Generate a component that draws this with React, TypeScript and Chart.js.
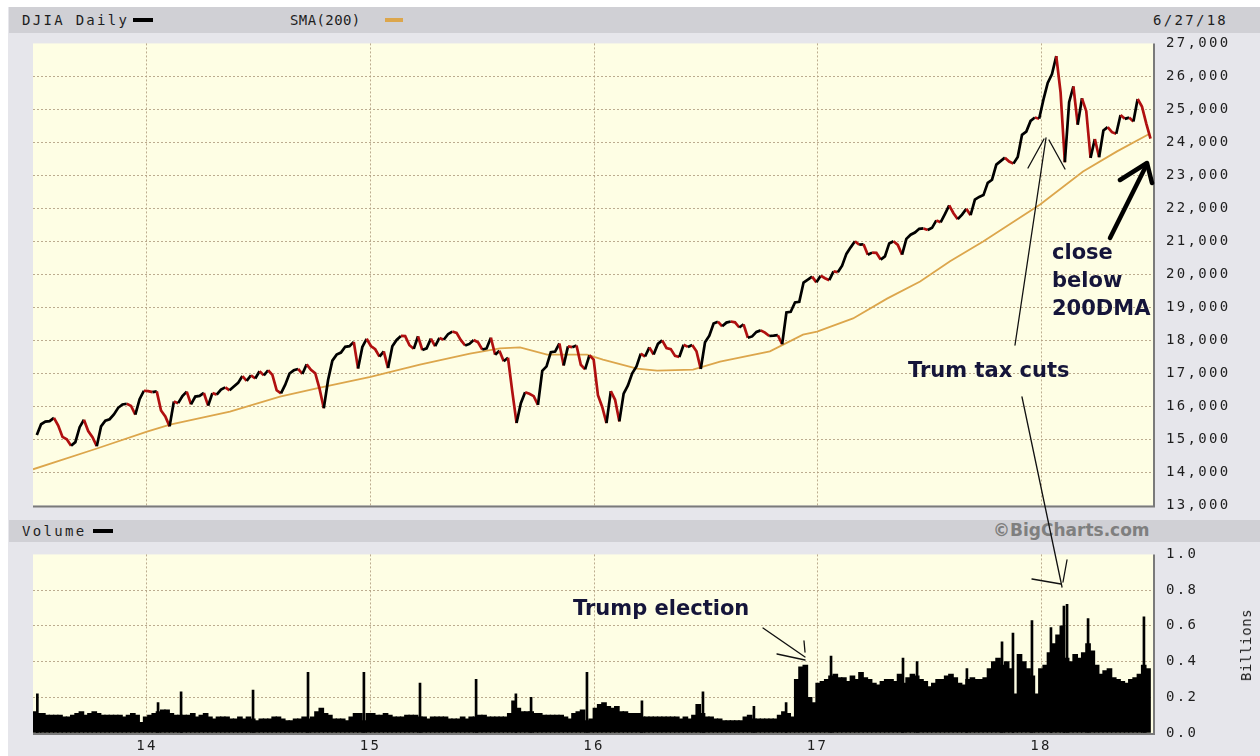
import React, { useEffect, useRef } from 'react';
import { Chart, registerables } from 'chart.js';

Chart.register(...registerables);

// ---------------- data ----------------
// weekly points, first week ends Fri 5 Jul 2013 (as fraction of a year)
const START_YEAR = 2013.507;
const WEEK_IN_YEARS = 7 / 365.25;

const DJIA_WEEKLY_2013 = [15135, 15464, 15543, 15559, 15658, 15425, 15081, 15010, 14810, 14922, 15376, 15600, 15258, 15073, 14800, 15400, 15570, 15615, 15762, 15962, 16065, 16086, 16020, 15755, 16221, 16479];
const DJIA_WEEKLY_2014 = [16469, 16437, 16459, 15880, 15699, 15400, 16154, 16103, 16321, 16452, 16065, 16302, 16323, 16412, 16027, 16408, 16361, 16512, 16583, 16491, 16606, 16717, 16924, 16776, 16947, 16851, 17068, 16944, 17100, 16961, 16493, 16400, 16663, 17001, 17098, 17138, 16988, 17280, 17113, 17009, 16544, 15950, 16805, 17391, 17573, 17635, 17810, 17828, 17959, 17150, 17805, 18053];
const DJIA_WEEKLY_2015 = [17833, 17737, 17512, 17673, 17165, 17825, 18019, 18140, 18133, 17857, 17749, 18128, 17713, 17763, 18058, 17827, 18080, 18024, 18191, 18272, 18232, 18011, 17849, 17898, 18015, 17947, 17730, 17760, 18086, 17568, 17690, 17373, 17477, 16460, 15500, 16102, 16433, 16385, 16315, 16050, 17084, 17216, 17647, 17664, 17910, 17245, 17824, 17798, 17848, 17265, 17128, 17552];
const DJIA_WEEKLY_2016 = [17425, 16347, 15988, 15500, 16466, 16205, 15550, 16392, 16640, 17007, 17213, 17602, 17516, 17793, 17577, 17898, 18004, 17774, 17740, 17535, 17501, 17873, 17807, 17865, 17675, 17140, 17949, 18147, 18517, 18571, 18432, 18543, 18576, 18552, 18395, 18492, 18085, 18124, 18262, 18308, 18240, 18138, 18146, 18161, 17888, 18848, 18868, 19152, 19171, 19757, 19843, 19934, 19763];
const DJIA_WEEKLY_2017 = [19964, 19886, 19827, 20094, 20071, 20269, 20624, 20822, 21006, 20903, 20915, 20597, 20663, 20656, 20453, 20548, 20941, 21007, 20897, 20600, 21080, 21206, 21272, 21384, 21395, 21350, 21414, 21638, 21580, 21830, 22093, 21858, 21675, 21814, 21988, 21798, 22268, 22350, 22405, 22774, 22871, 23329, 23434, 23539, 23422, 23358, 23558, 24231, 24329, 24652, 24754, 24719];
const DJIA_WEEKLY_2018 = [25296, 25803, 26072, 26617, 25521, 23400, 25219, 25700, 24538, 25336, 24947, 23534, 24103, 23550, 24360, 24463, 24311, 24263, 24831, 24715, 24753, 24635, 25317, 25090, 24580, 24117];

const SMA_YEARS = [2013.49, 2013.776, 2014.0, 2014.103, 2014.371, 2014.595, 2014.774, 2015.0, 2015.221, 2015.445, 2015.579, 2015.669, 2015.79, 2015.969, 2016.04, 2016.192, 2016.282, 2016.443, 2016.564, 2016.787, 2016.935, 2016.998, 2017.159, 2017.311, 2017.459, 2017.593, 2017.741, 2017.996, 2018.188, 2018.34, 2018.488];
const SMA_VALUES = [14100, 14730, 15240, 15450, 15850, 16300, 16570, 16900, 17270, 17600, 17760, 17790, 17570, 17570, 17420, 17150, 17090, 17120, 17360, 17670, 18180, 18270, 18670, 19270, 19790, 20400, 21000, 22120, 23120, 23730, 24270];

// weekly volume (billions)
const VOL_WEEKLY_2013 = [0.12, 0.11, 0.11, 0.10, 0.10, 0.10, 0.10, 0.09, 0.09, 0.10, 0.11, 0.12, 0.10, 0.11, 0.12, 0.11, 0.10, 0.10, 0.10, 0.10, 0.10, 0.09, 0.10, 0.11, 0.10, 0.06];
const VOL_WEEKLY_2014 = [0.09, 0.10, 0.11, 0.12, 0.13, 0.13, 0.11, 0.10, 0.10, 0.10, 0.10, 0.11, 0.09, 0.10, 0.11, 0.09, 0.08, 0.09, 0.09, 0.09, 0.08, 0.08, 0.09, 0.08, 0.09, 0.08, 0.07, 0.08, 0.08, 0.08, 0.09, 0.09, 0.08, 0.07, 0.07, 0.08, 0.08, 0.09, 0.08, 0.09, 0.12, 0.14, 0.11, 0.10, 0.08, 0.08, 0.08, 0.07, 0.09, 0.11, 0.11, 0.07];
const VOL_WEEKLY_2015 = [0.11, 0.11, 0.10, 0.10, 0.11, 0.10, 0.09, 0.09, 0.09, 0.10, 0.10, 0.10, 0.09, 0.09, 0.08, 0.09, 0.09, 0.09, 0.09, 0.08, 0.08, 0.08, 0.09, 0.08, 0.09, 0.09, 0.10, 0.10, 0.09, 0.09, 0.09, 0.09, 0.09, 0.11, 0.18, 0.14, 0.12, 0.12, 0.12, 0.11, 0.11, 0.10, 0.10, 0.10, 0.10, 0.10, 0.09, 0.08, 0.11, 0.12, 0.13, 0.07];
const VOL_WEEKLY_2016 = [0.08, 0.14, 0.16, 0.17, 0.15, 0.14, 0.15, 0.12, 0.12, 0.11, 0.11, 0.11, 0.09, 0.09, 0.09, 0.09, 0.09, 0.09, 0.09, 0.09, 0.09, 0.08, 0.09, 0.08, 0.10, 0.16, 0.11, 0.09, 0.09, 0.08, 0.08, 0.07, 0.07, 0.07, 0.07, 0.07, 0.09, 0.10, 0.08, 0.08, 0.08, 0.08, 0.08, 0.08, 0.10, 0.12, 0.11, 0.09, 0.30, 0.37, 0.38, 0.20, 0.17];
const VOL_WEEKLY_2017 = [0.28, 0.29, 0.30, 0.32, 0.33, 0.31, 0.31, 0.29, 0.32, 0.30, 0.34, 0.31, 0.30, 0.28, 0.27, 0.29, 0.30, 0.30, 0.29, 0.33, 0.28, 0.31, 0.33, 0.32, 0.30, 0.29, 0.26, 0.28, 0.30, 0.30, 0.32, 0.33, 0.31, 0.28, 0.27, 0.30, 0.31, 0.30, 0.30, 0.31, 0.36, 0.40, 0.42, 0.38, 0.40, 0.36, 0.22, 0.44, 0.40, 0.36, 0.32, 0.22];
const VOL_WEEKLY_2018 = [0.36, 0.38, 0.45, 0.50, 0.55, 0.60, 0.42, 0.40, 0.44, 0.42, 0.45, 0.50, 0.46, 0.38, 0.33, 0.35, 0.36, 0.31, 0.30, 0.29, 0.28, 0.30, 0.31, 0.33, 0.38, 0.36];

// single-day volume spikes
const VOL_SPIKE_YEARS = [2013.505, 2014.045, 2014.148, 2014.47, 2014.716, 2014.966, 2015.217, 2015.468, 2015.646, 2015.714, 2015.964, 2016.21, 2016.483, 2016.711, 2016.855, 2017.056, 2017.378, 2017.441, 2017.664, 2017.821, 2017.87, 2017.955, 2018.04, 2018.098, 2018.112, 2018.206, 2018.456];
const VOL_SPIKE_VALUES = [0.22, 0.17, 0.23, 0.24, 0.34, 0.34, 0.28, 0.30, 0.22, 0.20, 0.34, 0.18, 0.23, 0.15, 0.17, 0.43, 0.42, 0.40, 0.36, 0.51, 0.56, 0.63, 0.59, 0.71, 0.72, 0.64, 0.65];

const YEAR_TICKS = [2014, 2015, 2016, 2017, 2018];
const YEAR_LABELS = ['14', '15', '16', '17', '18'];
const X_MIN = 2013.49;
const X_MAX = 2018.501;
const PRICE_MIN = 13000;
const PRICE_MAX = 27000;
const PRICE_STEP = 1000;
const VOL_MIN = 0;
const VOL_MAX = 1;
const VOL_STEP = 0.2;

const DJIA_WEEKLY = [...DJIA_WEEKLY_2013, ...DJIA_WEEKLY_2014, ...DJIA_WEEKLY_2015, ...DJIA_WEEKLY_2016, ...DJIA_WEEKLY_2017, ...DJIA_WEEKLY_2018];
const VOL_WEEKLY = [...VOL_WEEKLY_2013, ...VOL_WEEKLY_2014, ...VOL_WEEKLY_2015, ...VOL_WEEKLY_2016, ...VOL_WEEKLY_2017, ...VOL_WEEKLY_2018];

// ---------------- styles ----------------
const PLOT_BG = '#fefee4';
const GRID = 'rgba(176,158,128,0.85)';
const UP = '#000000';
const DOWN = '#b01010';
const SMA_COLOR = '#dca64c';
const FRAME = '#7a7a7a';
const TICK_FONT = { family: '"DejaVu Sans Mono", monospace', size: 14 };
const TICK_COLOR = '#1e1e1e';
const AXIS_W = 107;

const panelPlugin = {
  id: 'panel',
  beforeDraw(chart: any) {
    const { ctx, chartArea } = chart;
    const { left, top, right, bottom } = chartArea;
    ctx.save();
    ctx.fillStyle = PLOT_BG;
    ctx.fillRect(left, top, right - left, bottom - top);
    ctx.restore();
    ctx.letterSpacing = '2.3px';
  },
  afterDraw(chart: any) {
    const { ctx, chartArea } = chart;
    const { left, top, right, bottom } = chartArea;
    ctx.save();
    ctx.strokeStyle = FRAME;
    ctx.lineWidth = 2;
    ctx.beginPath();
    ctx.moveTo(left, bottom + 1);
    ctx.lineTo(right + 1, bottom + 1);
    ctx.lineTo(right + 1, top);
    ctx.stroke();
    ctx.restore();
  },
};

const yearTicks = (scale: any) => {
  scale.ticks = YEAR_TICKS.map((v) => ({ value: v }));
};

function Txt(props: any) {
  const { x, baseline, size, family, weight, color, spacing, children } = props;
  return (
    <div
      style={{
        position: 'absolute',
        left: x,
        top: baseline - 0.846 * size,
        fontFamily: family,
        fontWeight: weight || 'normal',
        fontSize: size,
        lineHeight: `${size}px`,
        color,
        letterSpacing: spacing || 0,
        whiteSpace: 'nowrap',
      }}
    >
      {children}
    </div>
  );
}

const MONO = '"DejaVu Sans Mono", monospace';
const BOLD = '"DejaVu Sans", sans-serif';
const NOTE = '#15153a';

export default function App() {
  const priceRef = useRef<HTMLCanvasElement>(null);
  const volRef = useRef<HTMLCanvasElement>(null);

  useEffect(() => {
    const weekX = DJIA_WEEKLY.map((_, i) => START_YEAR + i * WEEK_IN_YEARS);
    const priceData = DJIA_WEEKLY.map((v, i) => ({ x: weekX[i], y: v }));
    const smaData = SMA_VALUES.map((v, i) => ({ x: SMA_YEARS[i], y: v }));
    const volData = VOL_WEEKLY.map((v, i) => ({ x: START_YEAR + i * WEEK_IN_YEARS, y: v }));
    const spikeData = VOL_SPIKE_VALUES.map((v, i) => ({ x: VOL_SPIKE_YEARS[i], y: v }));

    const price = new Chart(priceRef.current!, {
      type: 'line',
      data: {
        datasets: [
          {
            label: 'DJIA Daily',
            data: priceData,
            borderColor: UP,
            borderWidth: 2.7,
            pointRadius: 0,
            order: 0,
            segment: {
              borderColor: (c: any) => (c.p1.parsed.y < c.p0.parsed.y ? DOWN : UP),
            },
          },
          {
            label: 'SMA(200)',
            data: smaData,
            borderColor: SMA_COLOR,
            borderWidth: 1.8,
            pointRadius: 0,
            order: 1,
          },
        ],
      },
      options: {
        responsive: false,
        animation: false,
        events: [],
        layout: { padding: { top: 12, bottom: 12, left: 0, right: 0 } },
        plugins: { legend: { display: false }, tooltip: { enabled: false } },
        scales: {
          x: {
            type: 'linear',
            min: X_MIN,
            max: X_MAX,
            afterBuildTicks: yearTicks,
            ticks: { display: false },
            grid: { color: GRID, drawTicks: false },
            border: { display: false, dash: [2, 2] },
            afterFit: (s: any) => {
              s.height = 0;
            },
          },
          y: {
            position: 'right',
            min: PRICE_MIN,
            max: PRICE_MAX,
            ticks: {
              stepSize: PRICE_STEP,
              padding: 13,
              font: TICK_FONT,
              color: TICK_COLOR,
              callback: (v: any) => Number(v).toLocaleString('en-US'),
            },
            grid: {
              drawTicks: false,
              color: (c: any) =>
                c.tick && (c.tick.value <= PRICE_MIN || c.tick.value >= PRICE_MAX) ? 'rgba(0,0,0,0)' : GRID,
            },
            border: { display: false, dash: [2, 2] },
            afterFit: (s: any) => {
              s.width = AXIS_W;
            },
          },
        },
      },
      plugins: [panelPlugin],
    } as any);

    const vol = new Chart(volRef.current!, {
      type: 'bar',
      data: {
        datasets: [
          {
            label: 'Volume',
            data: volData,
            backgroundColor: '#000',
            barThickness: 5,
            xAxisID: 'x',
          },
          {
            label: 'Volume spikes',
            data: spikeData,
            backgroundColor: '#000',
            barThickness: 2,
            xAxisID: 'x2',
          },
        ],
      },
      options: {
        responsive: false,
        animation: false,
        events: [],
        layout: { padding: { top: 13, bottom: 0, left: 0, right: 0 } },
        plugins: { legend: { display: false }, tooltip: { enabled: false } },
        scales: {
          x: {
            type: 'linear',
            offset: false,
            min: X_MIN,
            max: X_MAX,
            afterBuildTicks: yearTicks,
            ticks: {
              padding: 5,
              font: TICK_FONT,
              color: TICK_COLOR,
              maxRotation: 0,
              autoSkip: false,
              callback: (v: any) => YEAR_LABELS[YEAR_TICKS.indexOf(Number(v))],
            },
            grid: { color: GRID, drawTicks: false, offset: false },
            border: { display: false, dash: [2, 2] },
            afterFit: (s: any) => {
              s.height = 23;
            },
          },
          x2: {
            type: 'linear',
            offset: false,
            display: false,
            min: X_MIN,
            max: X_MAX,
            grid: { offset: false },
          },
          y: {
            position: 'right',
            min: VOL_MIN,
            max: VOL_MAX,
            ticks: {
              stepSize: VOL_STEP,
              padding: 13,
              font: TICK_FONT,
              color: TICK_COLOR,
              callback: (v: any) => Number(v).toFixed(1),
            },
            grid: {
              drawTicks: false,
              color: (c: any) =>
                c.tick && (c.tick.value <= VOL_MIN + 1e-6 || c.tick.value >= VOL_MAX - 1e-6) ? 'rgba(0,0,0,0)' : GRID,
            },
            border: { display: false, dash: [2, 2] },
            afterFit: (s: any) => {
              s.width = AXIS_W;
            },
          },
        },
      },
      plugins: [panelPlugin],
    } as any);

    return () => {
      price.destroy();
      vol.destroy();
    };
  }, []);

  return (
    <div style={{ position: 'fixed', left: 0, top: 0, width: 1260, height: 756, background: '#ffffff', overflow: 'hidden' }}>
      <div style={{ position: 'absolute', left: 8, top: 7, width: 1252, height: 749, background: '#e6e6eb' }} />
      <div style={{ position: 'absolute', left: 9, top: 7, width: 1251, height: 26, background: '#d0d0d5' }} />
      <div style={{ position: 'absolute', left: 9, top: 520, width: 1251, height: 22, background: '#d0d0d5' }} />

      <Txt x={22} baseline={25} size={14} family={MONO} color={TICK_COLOR} spacing={2.3}>DJIA Daily</Txt>
      <div style={{ position: 'absolute', left: 133, top: 18, width: 20, height: 4, background: '#000' }} />
      <Txt x={290} baseline={25} size={14} family={MONO} color={TICK_COLOR} spacing={0.4}>SMA(200)</Txt>
      <div style={{ position: 'absolute', left: 385, top: 18, width: 18, height: 4, background: SMA_COLOR }} />
      <Txt x={1153} baseline={25} size={14} family={MONO} color={TICK_COLOR} spacing={2.3}>6/27/18</Txt>

      <Txt x={22} baseline={536} size={14} family={MONO} color={TICK_COLOR} spacing={2.3}>Volume</Txt>
      <div style={{ position: 'absolute', left: 93, top: 529, width: 20, height: 4, background: '#000' }} />
      <Txt x={993} baseline={536} size={17} family={BOLD} weight="bold" color="#7f7f7f">©BigCharts.com</Txt>

      <canvas ref={priceRef} width={1227} height={505} style={{ position: 'absolute', left: 33, top: 22 }} />
      <canvas ref={volRef} width={1227} height={223} style={{ position: 'absolute', left: 33, top: 533 }} />

      <div
        style={{
          position: 'absolute',
          left: 1246,
          top: 645,
          transform: 'translate(-50%, -50%) rotate(-90deg)',
          fontFamily: MONO,
          fontSize: 14,
          lineHeight: '14px',
          letterSpacing: 0.6,
          color: TICK_COLOR,
          whiteSpace: 'nowrap',
        }}
      >
        Billions
      </div>

      <Txt x={573} baseline={616} size={21} family={BOLD} weight="bold" color={NOTE}>Trump election</Txt>
      <Txt x={908} baseline={378} size={21} family={BOLD} weight="bold" color={NOTE}>Trum tax cuts</Txt>
      <Txt x={1052} baseline={260} size={21} family={BOLD} weight="bold" color={NOTE}>close</Txt>
      <Txt x={1052} baseline={288} size={21} family={BOLD} weight="bold" color={NOTE}>below</Txt>
      <Txt x={1052} baseline={316} size={21} family={BOLD} weight="bold" color={NOTE}>200DMA</Txt>

      <svg width={1260} height={756} style={{ position: 'absolute', left: 0, top: 0, pointerEvents: 'none' }}>
        <g stroke="#111" strokeWidth={1.3} fill="none" strokeLinecap="round">
          <line x1={763} y1={628} x2={805} y2={657} />
          <line x1={777} y1={654} x2={805} y2={660} />
          <line x1={804} y1={641} x2={805} y2={652} />
          <line x1={1046} y1={138} x2={1015} y2={345} />
          <line x1={1028} y1={168} x2={1044} y2={139} />
          <line x1={1049} y1={140} x2={1065} y2={169} />
          <line x1={1022} y1={397} x2={1062} y2={587} />
          <line x1={1032} y1={579} x2={1061} y2={584} />
          <line x1={1063} y1={582} x2={1067} y2={560} />
        </g>
        <g stroke="#000" strokeWidth={4.5} fill="none" strokeLinecap="round" strokeLinejoin="round">
          <line x1={1110} y1={238} x2={1146} y2={166} />
          <polyline points="1120,180 1147,163 1152,183" />
        </g>
      </svg>
    </div>
  );
}
